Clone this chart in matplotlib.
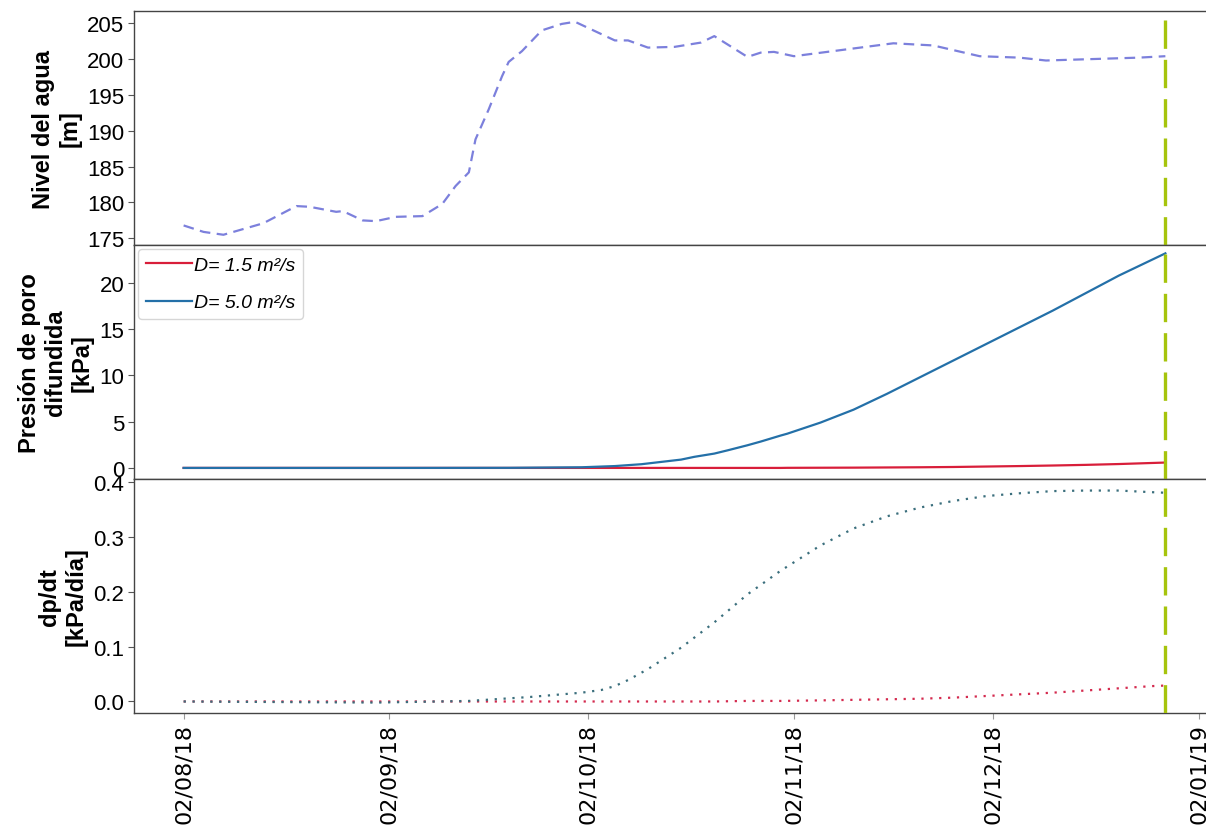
import pandas as pd
import matplotlib
matplotlib.use("Agg")
import matplotlib.pyplot as plt
import matplotlib.dates as mdates

plt.rcParams["font.family"] = ["Liberation Sans", "DejaVu Sans"]

# water level (m)
nivel_fechas = ["2018-08-02", "2018-08-05", "2018-08-08", "2018-08-11", "2018-08-14",
                "2018-08-19", "2018-08-21", "2018-08-25", "2018-08-26", "2018-08-29",
                "2018-08-31", "2018-09-03", "2018-09-07", "2018-09-10", "2018-09-12",
                "2018-09-14", "2018-09-15", "2018-09-17", "2018-09-19", "2018-09-20",
                "2018-09-22", "2018-09-25", "2018-09-28", "2018-09-30", "2018-10-03",
                "2018-10-06", "2018-10-08", "2018-10-11", "2018-10-15", "2018-10-19",
                "2018-10-21", "2018-10-26", "2018-10-28", "2018-10-30", "2018-11-02",
                "2018-11-07", "2018-11-12", "2018-11-17", "2018-11-23", "2018-11-30",
                "2018-12-06", "2018-12-10", "2018-12-17", "2018-12-24", "2018-12-28"]
nivel_valores = [176.8, 175.9, 175.5, 176.3, 177.1,
                 179.5, 179.4, 178.7, 178.8, 177.5,
                 177.4, 178.0, 178.1, 179.8, 182.3,
                 184.2, 188.8, 193.0, 197.6, 199.6,
                 201.1, 204.0, 204.9, 205.2, 203.9,
                 202.6, 202.6, 201.6, 201.7, 202.3,
                 203.2, 200.3, 200.9, 201.0, 200.4,
                 201.0, 201.6, 202.2, 201.9, 200.4,
                 200.2, 199.8, 200.0, 200.2, 200.4]

# diffused pore pressure (kPa)
pres_fechas = ["2018-08-02", "2018-09-02", "2018-09-20", "2018-10-01", "2018-10-06",
               "2018-10-10", "2018-10-13", "2018-10-16", "2018-10-18", "2018-10-21",
               "2018-10-23", "2018-10-26", "2018-10-28", "2018-10-31", "2018-11-01",
               "2018-11-06", "2018-11-11", "2018-11-16", "2018-11-21", "2018-11-26",
               "2018-12-01", "2018-12-06", "2018-12-11", "2018-12-16", "2018-12-21",
               "2018-12-28"]
pres_d15 = [0.0, 0.0, 0.0, 0.0, 0.0,
            0.0, 0.0, 0.0, 0.0, 0.0,
            0.0, 0.0, 0.0, 0.0, 0.01,
            0.02, 0.03, 0.05, 0.07, 0.10,
            0.15, 0.20, 0.26, 0.33, 0.42,
            0.58]
pres_d50 = [0.0, 0.0, 0.01, 0.07, 0.2,
            0.4, 0.65, 0.9, 1.2, 1.55,
            1.9, 2.45, 2.85, 3.5, 3.7,
            4.9, 6.3, 8.0, 9.8, 11.6,
            13.4, 15.2, 17.0, 18.9, 20.8,
            23.2]

# pressure rate (kPa/dia)
tasa_fechas = ["2018-08-02", "2018-08-31", "2018-09-14", "2018-09-23", "2018-10-01",
               "2018-10-04", "2018-10-06", "2018-10-08", "2018-10-11", "2018-10-16",
               "2018-10-21", "2018-10-26", "2018-10-31", "2018-11-06", "2018-11-11",
               "2018-11-16", "2018-11-21", "2018-11-26", "2018-12-01", "2018-12-06",
               "2018-12-11", "2018-12-16", "2018-12-21", "2018-12-26", "2018-12-28"]
tasa_d15 = [0.0, 0.0, 0.0, 0.0, 0.0,
            0.0, 0.0, 0.0, 0.0, 0.0,
            0.0, 0.001, 0.001, 0.002, 0.003,
            0.004, 0.005, 0.007, 0.010, 0.013,
            0.016, 0.020, 0.024, 0.028, 0.029]
tasa_d50 = [0.0, -0.002, 0.001, 0.008, 0.016,
            0.021, 0.028, 0.039, 0.059, 0.098,
            0.144, 0.195, 0.238, 0.284, 0.315,
            0.337, 0.353, 0.365, 0.374, 0.379,
            0.383, 0.384, 0.384, 0.381, 0.380]

fecha_corte = "2018-12-28"

nivel_t = pd.to_datetime(nivel_fechas)
pres_t = pd.to_datetime(pres_fechas)
tasa_t = pd.to_datetime(tasa_fechas)

fig, axes = plt.subplots(3, 1, sharex=True, figsize=(12.06, 8.29), dpi=100)
fig.subplots_adjust(left=0.111, right=1.0, top=0.9855, bottom=0.1387, hspace=0)
ax1, ax2, ax3 = axes

ax1.plot(nivel_t, nivel_valores, color="#7c80dc", lw=1.6, linestyle=(0, (4.8, 2.9)))
ax1.set_ylim(174.07, 206.7)
ax1.set_yticks([175, 180, 185, 190, 195, 200, 205])
ax1.set_ylabel("Nivel del agua\n[m]")

ax2.plot(pres_t, pres_d15, color="#d81e3a", lw=1.6, label="D= 1.5 m²/s")
ax2.plot(pres_t, pres_d50, color="#2470a8", lw=1.6, label="D= 5.0 m²/s")
ax2.set_ylim(-1.2, 24.1)
ax2.set_yticks([0, 5, 10, 15, 20])
ax2.set_ylabel("Presión de poro\ndifundida\n[kPa]")
leg = ax2.legend(loc="upper left", prop={"style": "italic", "size": 14},
                 handlelength=2.4, handletextpad=0.1, labelspacing=1.0,
                 borderaxespad=0.2, borderpad=0.4, fancybox=True)
leg.get_frame().set_edgecolor("#cccccc")

ax3.plot(tasa_t, tasa_d15, color="#d42a4e", lw=1.6, linestyle=(0, (1, 3)))
ax3.plot(tasa_t, tasa_d50, color="#3b6f7d", lw=1.6, linestyle=(0, (1, 3)))
ax3.set_ylim(-0.021, 0.405)
ax3.set_yticks([0.0, 0.1, 0.2, 0.3, 0.4])
ax3.set_ylabel("dp/dt\n[kPa/día]")

for ax in axes:
    ax.axvline(pd.Timestamp(fecha_corte), color="#a6c40c", lw=2.4,
               linestyle=(0, (8.5, 3.3)), zorder=5)
    ax.spines["right"].set_visible(False)
    for s in ("left", "top", "bottom"):
        ax.spines[s].set_color("#444444")
        ax.spines[s].set_linewidth(1.0)
    ax.tick_params(axis="y", labelsize=16, length=4, color="#555555", pad=3)
    ax.tick_params(axis="x", length=4, color="#999999")
    ax.yaxis.label.set_fontsize(17)
    ax.yaxis.label.set_fontweight("bold")
    ax.yaxis.labelpad = 4

ax3.xaxis.set_major_locator(mdates.MonthLocator(bymonthday=2))
ax3.xaxis.set_major_formatter(mdates.DateFormatter("%d/%m/%y"))
ax3.set_xlim(pd.Timestamp("2018-07-25 12:00"), pd.Timestamp("2019-01-03 03:00"))
for lab in ax3.get_xticklabels():
    lab.set_rotation(90)
    lab.set_fontsize(16)
    lab.set_family("DejaVu Sans")

fig.savefig("out.png", dpi=100)
